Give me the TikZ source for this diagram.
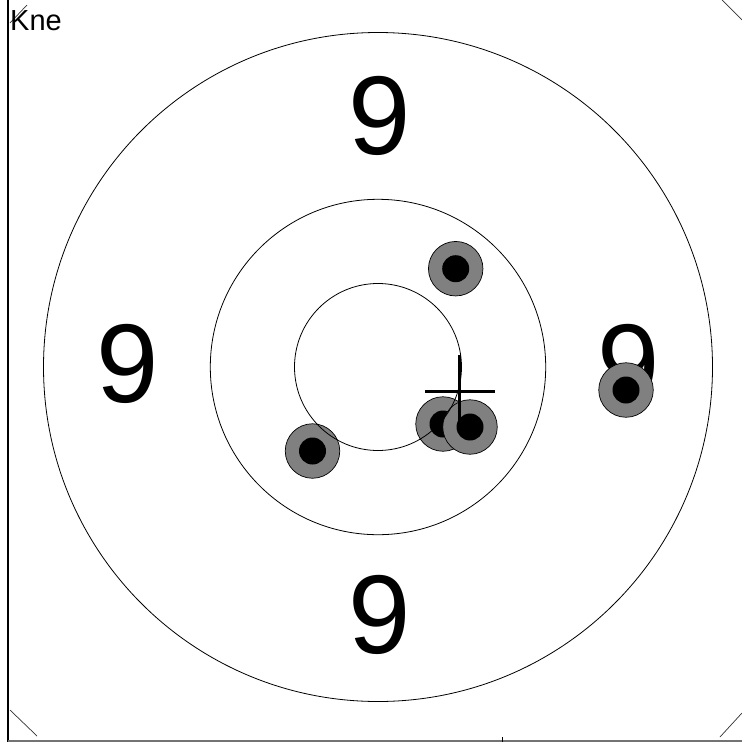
\documentclass[tikz,border=0pt]{standalone}
\usepackage{fontspec}
\setmainfont{Liberation Sans}
\begin{document}
\begin{tikzpicture}[x=1pt,y=-1pt,
  ring/.style={draw=black,line width=0.8pt},
  shotouter/.style={circle,draw=black,line width=0.7pt,fill=black!50,minimum size=54.5pt,inner sep=0pt},
  shotinner/.style={circle,fill=black,minimum size=27pt,inner sep=0pt},
  ninelabel/.style={inner sep=0pt,font=\fontsize{112}{112}\selectfont},
  corner/.style={draw=black!80,line width=0.7pt},
  crossline/.style={draw=black,line width=3pt}]
\useasboundingbox[fill=white] (0,0) rectangle (742,742);
% frame
\draw[line width=1.3pt] (8,0) -- (8,742);
\draw[line width=2pt,black!55] (8,740.5) -- (742,740.5);
\draw[line width=1pt] (502,737) -- (502,742);
% corner marks
\draw[corner] (10,23) -- (27,5);
\draw[corner] (722,0) -- (742,20);
\draw[corner] (10,710) -- (37,736);
\draw[corner] (720,737) -- (742,713);
% label
\node[anchor=base west,inner sep=0pt,font=\fontsize{29}{29}\selectfont] (kne) at (10,30) {Kne};
% nines
\node[ninelabel] (ntop) at (380,116) {9};
\node[ninelabel] (nleft) at (128,364) {9};
\node[ninelabel] (nright) at (629,364) {9};
\node[ninelabel] (nbottom) at (380,615) {9};
% shots
\node[shotouter] (s1) at (455.7,268.7) {};
\node[shotinner] (s1c) at (s1) {};
\node[shotouter] (s2) at (312.5,451) {};
\node[shotinner] (s2c) at (s2) {};
\node[shotouter] (s3) at (443,424) {};
\node[shotinner] (s3c) at (s3) {};
\node[shotouter] (s4) at (470,427) {};
\node[shotinner] (s4c) at (s4) {};
\node[shotouter] (s5) at (626,390) {};
\node[shotinner] (s5c) at (s5) {};
% rings
\coordinate (ctr) at (378,367);
\draw[ring] (ctr) circle[radius=334.5];
\draw[ring] (ctr) circle[radius=167.7];
\draw[ring] (ctr) circle[radius=83.5];
% cross
\draw[crossline] (425,391) -- (495,391);
\draw[crossline] (459,355) -- (459,430);
\end{tikzpicture}
\end{document}
